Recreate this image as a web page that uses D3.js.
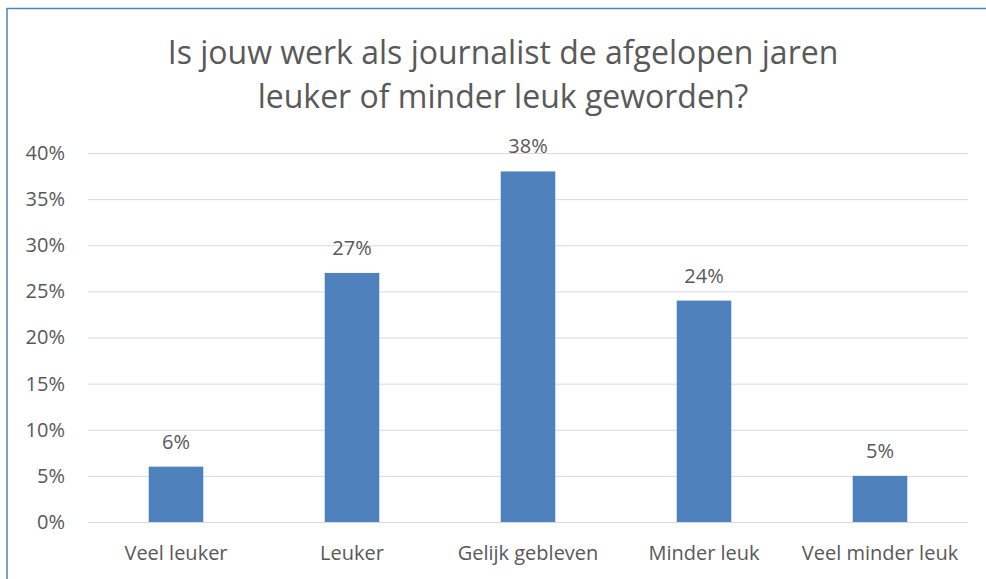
<!DOCTYPE html>
<html>
<head>
<meta charset="utf-8">
<script src="https://cdn.jsdelivr.net/npm/d3@7"></script>
<style>
  body { margin: 0; background: #fff; }
  text { font-family: 'Open Sans', 'Liberation Sans', sans-serif; fill: #595959; }
</style>
</head>
<body>
<svg id="chart" width="986" height="579"></svg>
<script>
'use strict';

// chart data
const categories = ['Veel leuker', 'Leuker', 'Gelijk gebleven', 'Minder leuk', 'Veel minder leuk'];
const values = [6, 27, 38, 24, 5];
const yTicks = [0, 5, 10, 15, 20, 25, 30, 35, 40];
const titleLines = ['Is jouw werk als journalist de afgelopen jaren', 'leuker of minder leuk geworden?'];

const svg = d3.select('#chart');

// outer chart border
svg.append('rect')
  .attr('x', 7)
  .attr('y', 8.5)
  .attr('width', 990)
  .attr('height', 600)
  .attr('fill', 'none')
  .attr('stroke', '#4f81bd')
  .attr('stroke-width', 1.5);

const plot = { left: 88, right: 968, top: 153, bottom: 522 };

const xScale = d3.scaleBand()
  .domain(categories)
  .range([plot.left, plot.right])
  .paddingInner(0.69)
  .paddingOuter(0.345);

const yScale = d3.scaleLinear()
  .domain([0, 40])
  .range([plot.bottom, plot.top]);

// title, two lines
svg.append('text')
  .attr('text-anchor', 'middle')
  .style('font-size', '32px')
  .selectAll('tspan')
  .data(titleLines)
  .enter()
  .append('tspan')
  .attr('x', 503)
  .attr('y', (d, i) => 64 + i * 44)
  .text(d => d);

// gridlines + y labels
const yAxis = d3.axisLeft(yScale)
  .tickValues(yTicks)
  .tickSize(-(plot.right - plot.left))
  .tickPadding(23)
  .tickFormat(d => d + '%');

const yG = svg.append('g')
  .attr('transform', 'translate(' + plot.left + ',0)')
  .call(yAxis);
yG.select('.domain').remove();
yG.selectAll('line').attr('stroke', '#d9d9d9').attr('stroke-width', 1);
yG.selectAll('text')
  .style('font-size', '20px')
  .style('font-family', "'Open Sans', 'Liberation Sans', sans-serif")
  .attr('fill', '#595959');

// bars
svg.selectAll('.bar')
  .data(values)
  .enter()
  .append('rect')
  .attr('class', 'bar')
  .attr('x', (d, i) => xScale(categories[i]))
  .attr('y', d => yScale(d))
  .attr('width', xScale.bandwidth())
  .attr('height', d => yScale(0) - yScale(d))
  .attr('fill', '#4f81bd');

// data labels above bars
svg.selectAll('.label')
  .data(values)
  .enter()
  .append('text')
  .attr('class', 'label')
  .attr('x', (d, i) => xScale(categories[i]) + xScale.bandwidth() / 2)
  .attr('y', d => yScale(d) - 18)
  .attr('text-anchor', 'middle')
  .style('font-size', '20px')
  .text(d => d + '%');

// x axis labels
const xAxis = d3.axisBottom(xScale).tickSize(0).tickPadding(24);
const xG = svg.append('g')
  .attr('transform', 'translate(0,' + plot.bottom + ')')
  .call(xAxis);
xG.select('.domain').remove();
xG.selectAll('text')
  .style('font-size', '20px')
  .style('font-family', "'Open Sans', 'Liberation Sans', sans-serif")
  .attr('fill', '#595959');
</script>
</body>
</html>
